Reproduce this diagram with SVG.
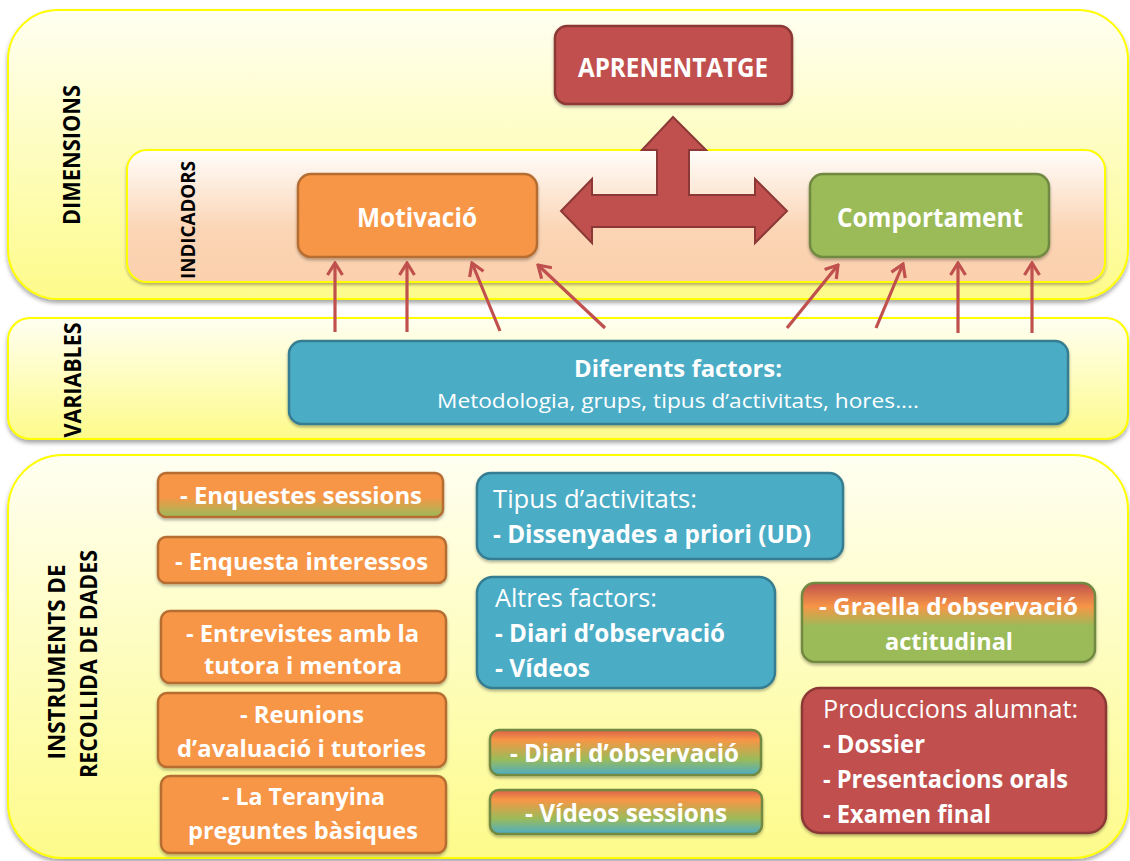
<svg xmlns="http://www.w3.org/2000/svg" width="1130" height="861" viewBox="0 0 1130 861">
<defs>
  <linearGradient id="gPanel" x1="0" y1="0" x2="0" y2="1">
    <stop offset="0" stop-color="#fffff2"/>
    <stop offset="1" stop-color="#fdfb8a"/>
  </linearGradient>
  <linearGradient id="gInd" x1="0" y1="0" x2="0" y2="1">
    <stop offset="0" stop-color="#fffdfb"/>
    <stop offset="0.6" stop-color="#fbd5b5"/>
    <stop offset="1" stop-color="#fbd0ad"/>
  </linearGradient>
  <linearGradient id="gOG" x1="0" y1="0" x2="0" y2="1">
    <stop offset="0" stop-color="#f79646"/>
    <stop offset="0.55" stop-color="#f79646"/>
    <stop offset="1" stop-color="#9bbb59"/>
  </linearGradient>
  <linearGradient id="gGraella" x1="0" y1="0" x2="0" y2="1">
    <stop offset="0" stop-color="#c0504d"/>
    <stop offset="0.3" stop-color="#f79646"/>
    <stop offset="0.55" stop-color="#9bbb59"/>
    <stop offset="1" stop-color="#9bbb59"/>
  </linearGradient>
  <linearGradient id="gRain" x1="0" y1="0" x2="0" y2="1">
    <stop offset="0" stop-color="#d9614a"/>
    <stop offset="0.22" stop-color="#f79646"/>
    <stop offset="0.65" stop-color="#9bbb59"/>
    <stop offset="1" stop-color="#4bacc6"/>
  </linearGradient>
  <filter id="sh" x="-5%" y="-5%" width="110%" height="120%">
    <feDropShadow dx="0" dy="3" stdDeviation="2" flood-color="#000" flood-opacity="0.35"/>
  </filter>
  <filter id="sh2" x="-5%" y="-5%" width="110%" height="130%">
    <feDropShadow dx="0" dy="2" stdDeviation="1.5" flood-color="#000" flood-opacity="0.3"/>
  </filter>
  <marker id="ah" viewBox="-14 -10 16 20" markerWidth="16" markerHeight="20" refX="0" refY="0" orient="auto" markerUnits="userSpaceOnUse">
    <path d="M-12,-7.5 L0,0 L-12,7.5" fill="none" stroke="#c0504d" stroke-width="3.2"/>
  </marker>
</defs>
<style>
  .panel{fill:url(#gPanel);stroke:#ffff00;stroke-width:2;filter:url(#sh)}
  .ind{fill:url(#gInd);stroke:#ffff00;stroke-width:2;filter:url(#sh2)}
  .org{fill:#f79646;stroke:#b66d31;stroke-width:2.5;filter:url(#sh2)}
  .blu{fill:#4bacc6;stroke:#357d91;stroke-width:2.5;filter:url(#sh2)}
  .red{fill:#c0504d;stroke:#8c3836;stroke-width:2.5;filter:url(#sh2)}
  .grn{fill:#9bbb59;stroke:#71893f;stroke-width:2.5;filter:url(#sh2)}
  .t{font-family:"Open Sans","Liberation Sans",sans-serif;fill:#ffffff}
  .b{font-weight:bold}
  .lbl{font-family:"Open Sans","Liberation Sans",sans-serif;font-weight:bold;fill:#000000}
  .conn line{stroke:#c0504d;stroke-width:3.2;marker-end:url(#ah)}
</style>

<!-- Panels -->
<g id="panel-dimensions">
  <rect class="panel" x="8" y="10" width="1120" height="289" rx="50" ry="50"/>
  <text class="lbl" font-size="23" textLength="140" lengthAdjust="spacingAndGlyphs" text-anchor="middle" transform="translate(80,155) rotate(-90)">DIMENSIONS</text>
</g>
<g id="panel-indicadors">
  <rect class="ind" x="127" y="150" width="978" height="132" rx="20" ry="20"/>
  <text class="lbl" font-size="20" textLength="118" lengthAdjust="spacingAndGlyphs" text-anchor="middle" transform="translate(195,220) rotate(-90)">INDICADORS</text>
</g>
<g id="panel-variables">
  <rect class="panel" x="8" y="318" width="1120" height="121" rx="22" ry="22"/>
  <text class="lbl" font-size="23" textLength="115" lengthAdjust="spacingAndGlyphs" text-anchor="middle" transform="translate(81,380) rotate(-90)">VARIABLES</text>
</g>
<g id="panel-instruments">
  <rect class="panel" x="8" y="455" width="1120" height="403" rx="55" ry="55"/>
  <text class="lbl" font-size="23" textLength="195" lengthAdjust="spacingAndGlyphs" text-anchor="middle" transform="translate(65,662) rotate(-90)">INSTRUMENTS DE</text>
  <text class="lbl" font-size="23" textLength="228" lengthAdjust="spacingAndGlyphs" text-anchor="middle" transform="translate(97,664) rotate(-90)">RECOLLIDA DE DADES</text>
</g>

<!-- Top nodes -->
<g id="aprenentatge">
  <rect class="red" x="555" y="26" width="237" height="78" rx="12"/>
  <text class="t b" x="673" y="77" font-size="27" text-anchor="middle" textLength="190" lengthAdjust="spacingAndGlyphs">APRENENTATGE</text>
</g>
<g id="triple-arrow">
  <path d="M673,117 L706,150 L689,150 L689,195 L755,195 L755,179 L787,211 L755,243 L755,227 L592,227 L592,243 L561,211 L592,179 L592,195 L657,195 L657,150 L642,150 Z" fill="#c0504d" stroke="#8c3836" stroke-width="2" stroke-linejoin="miter"/>
</g>
<g id="motivacio">
  <rect class="org" x="298" y="174" width="239" height="83" rx="13"/>
  <text class="t b" x="417" y="227" font-size="27" text-anchor="middle" textLength="120" lengthAdjust="spacingAndGlyphs">Motivació</text>
</g>
<g id="comportament">
  <rect class="grn" x="810" y="174" width="239" height="83" rx="13"/>
  <text class="t b" x="930" y="227" font-size="27" text-anchor="middle" textLength="186" lengthAdjust="spacingAndGlyphs">Comportament</text>
</g>

<!-- Variables node -->
<g id="diferents-factors">
  <rect class="blu" x="289" y="341" width="779" height="83" rx="13"/>
  <text class="t b" x="678" y="377" font-size="24" text-anchor="middle" textLength="208" lengthAdjust="spacingAndGlyphs">Diferents factors:</text>
  <text class="t" x="678" y="408" font-size="20" text-anchor="middle" textLength="482" lengthAdjust="spacingAndGlyphs">Metodologia, grups, tipus d’activitats, hores....</text>
</g>

<!-- Connectors -->
<g id="connectors" class="conn">
  <line x1="335" y1="332" x2="335" y2="263"/>
  <line x1="407" y1="332" x2="407" y2="263"/>
  <line x1="500" y1="331" x2="472" y2="263"/>
  <line x1="605" y1="328" x2="538" y2="265"/>
  <line x1="787" y1="328" x2="838" y2="265"/>
  <line x1="876" y1="328" x2="903" y2="264"/>
  <line x1="958" y1="333" x2="958" y2="263"/>
  <line x1="1032" y1="333" x2="1032" y2="263"/>
</g>

<!-- Instruments: left column -->
<g id="enquestes-sessions">
  <rect x="158" y="473" width="285" height="44" rx="8" fill="url(#gOG)" stroke="#b66d31" stroke-width="2.5" filter="url(#sh2)"/>
  <text class="t b" x="180" y="504" font-size="24" textLength="242" lengthAdjust="spacingAndGlyphs">- Enquestes sessions</text>
</g>
<g id="enquesta-interessos">
  <rect class="org" x="158" y="537" width="288" height="46" rx="8"/>
  <text class="t b" x="175" y="570" font-size="24" textLength="253" lengthAdjust="spacingAndGlyphs">- Enquesta interessos</text>
</g>
<g id="entrevistes">
  <rect class="org" x="161" y="611" width="285" height="72" rx="9"/>
  <text class="t b" x="186" y="642" font-size="24" textLength="233" lengthAdjust="spacingAndGlyphs">- Entrevistes amb la</text>
  <text class="t b" x="204" y="674" font-size="24" textLength="198" lengthAdjust="spacingAndGlyphs">tutora i mentora</text>
</g>
<g id="reunions">
  <rect class="org" x="158" y="693" width="288" height="74" rx="9"/>
  <text class="t b" x="240" y="723" font-size="24" textLength="124" lengthAdjust="spacingAndGlyphs">- Reunions</text>
  <text class="t b" x="177" y="757" font-size="24" textLength="249" lengthAdjust="spacingAndGlyphs">d’avaluació i tutories</text>
</g>
<g id="teranyina">
  <rect class="org" x="161" y="776" width="285" height="77" rx="9"/>
  <text class="t b" x="222" y="805" font-size="24" textLength="163" lengthAdjust="spacingAndGlyphs">- La Teranyina</text>
  <text class="t b" x="188" y="839" font-size="24" textLength="230" lengthAdjust="spacingAndGlyphs">preguntes bàsiques</text>
</g>

<!-- Instruments: middle column -->
<g id="tipus-activitats">
  <rect class="blu" x="477" y="473" width="366" height="86" rx="14"/>
  <text class="t" x="493" y="508" font-size="25" textLength="204" lengthAdjust="spacingAndGlyphs">Tipus d’activitats:</text>
  <text class="t b" x="493" y="543" font-size="25" textLength="318" lengthAdjust="spacingAndGlyphs">- Dissenyades a priori (UD)</text>
</g>
<g id="altres-factors">
  <rect class="blu" x="477" y="577" width="298" height="111" rx="16"/>
  <text class="t" x="495" y="607" font-size="25" textLength="162" lengthAdjust="spacingAndGlyphs">Altres factors:</text>
  <text class="t b" x="495" y="642" font-size="25" textLength="230" lengthAdjust="spacingAndGlyphs">- Diari d’observació</text>
  <text class="t b" x="495" y="677" font-size="25" textLength="95" lengthAdjust="spacingAndGlyphs">- Vídeos</text>
</g>
<g id="diari-observacio">
  <rect x="490" y="730" width="271" height="45" rx="9" fill="url(#gRain)" stroke="#71893f" stroke-width="2.5" filter="url(#sh2)"/>
  <text class="t b" x="510" y="762" font-size="25" textLength="229" lengthAdjust="spacingAndGlyphs">- Diari d’observació</text>
</g>
<g id="videos-sessions">
  <rect x="490" y="790" width="272" height="44" rx="9" fill="url(#gRain)" stroke="#71893f" stroke-width="2.5" filter="url(#sh2)"/>
  <text class="t b" x="525" y="822" font-size="25" textLength="202" lengthAdjust="spacingAndGlyphs">- Vídeos sessions</text>
</g>

<!-- Instruments: right column -->
<g id="graella">
  <rect x="802" y="583" width="293" height="79" rx="13" fill="url(#gGraella)" stroke="#71893f" stroke-width="2.5" filter="url(#sh2)"/>
  <text class="t b" x="819" y="615" font-size="24" textLength="259" lengthAdjust="spacingAndGlyphs">- Graella d’observació</text>
  <text class="t b" x="885" y="650" font-size="24" textLength="128" lengthAdjust="spacingAndGlyphs">actitudinal</text>
</g>
<g id="produccions">
  <rect class="red" x="802" y="688" width="304" height="145" rx="18"/>
  <text class="t" x="823" y="718" font-size="25" textLength="255" lengthAdjust="spacingAndGlyphs">Produccions alumnat:</text>
  <text class="t b" x="823" y="753" font-size="25" textLength="102" lengthAdjust="spacingAndGlyphs">- Dossier</text>
  <text class="t b" x="823" y="788" font-size="25" textLength="245" lengthAdjust="spacingAndGlyphs">- Presentacions orals</text>
  <text class="t b" x="823" y="823" font-size="25" textLength="168" lengthAdjust="spacingAndGlyphs">- Examen final</text>
</g>
</svg>
